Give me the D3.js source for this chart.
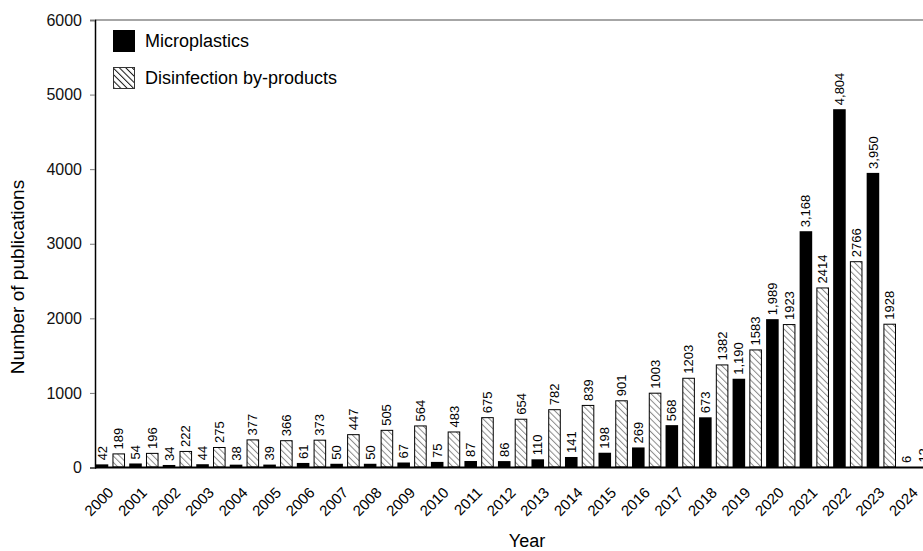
<!DOCTYPE html>
<html>
<head>
<meta charset="utf-8">
<script src="https://cdn.jsdelivr.net/npm/d3@7"></script>
<style>
  body { margin: 0; background: #fff; }
  svg { display: block; font-family: Arial, "Liberation Sans", sans-serif; }
</style>
</head>
<body>
<div id="chart"></div>
<script>
// Dades
const years = ["2000","2001","2002","2003","2004","2005","2006","2007","2008","2009",
  "2010","2011","2012","2013","2014","2015","2016","2017","2018","2019",
  "2020","2021","2022","2023","2024"];
const microplastics = [42,54,34,44,38,39,61,50,50,67,75,87,86,110,141,198,269,568,673,1190,1989,3168,4804,3950,6];
const dbp = [189,196,222,275,377,366,373,447,505,564,483,675,654,782,839,901,1003,1203,1382,1583,1923,2414,2766,1928,12];
const yTicks = [0,1000,2000,3000,4000,5000,6000];
const seriesNames = ["Microplastics", "Disinfection by-products"];

const width = 923, height = 551;
const margin = { top: 20, left: 95, bottom: 83 };
const groupStep = 33.52;

const svg = d3.select("#chart").append("svg")
  .attr("width", width)
  .attr("height", height);

// patrons ratllats
const defs = svg.append("defs");
function hatch(id, color, w, s) {
  const p = defs.append("pattern")
    .attr("id", id)
    .attr("patternUnits", "userSpaceOnUse")
    .attr("width", s).attr("height", s)
    .attr("patternTransform", "rotate(-45)");
  p.append("rect").attr("width", s).attr("height", s).attr("fill", "#fff");
  p.append("line").attr("x1", 0).attr("y1", 0).attr("x2", 0).attr("y2", s)
    .attr("stroke", color).attr("stroke-width", w);
}
hatch("hatchBar", "#8a8a8a", 2, 4.5);
hatch("hatchLegend", "#111", 2, 4.5);

// Escales
const x0 = d3.scaleBand()
  .domain(years)
  .range([margin.left + 0.7, margin.left + 0.7 + groupStep * years.length]);

const x1 = d3.scaleBand()
  .domain(["mp", "dbp"])
  .range([0, groupStep])
  .paddingInner(0.25)
  .paddingOuter(0.125)
  .align(0);

const y = d3.scaleLinear()
  .domain([0, 6000])
  .range([height - margin.bottom - 0.5, margin.top]);

const rows = years.map((yr, i) => ({ year: yr, mp: microplastics[i], dbp: dbp[i] }));

// marc superior
svg.append("line")
  .attr("x1", margin.left).attr("x2", width)
  .attr("y1", margin.top).attr("y2", margin.top)
  .attr("stroke", "#888").attr("stroke-width", 1.5);

// Barres
const g = svg.append("g");
const groups = g.selectAll("g.year")
  .data(rows)
  .join("g")
  .attr("transform", d => `translate(${x0(d.year)},0)`);

groups.append("rect")
  .attr("x", x1("mp"))
  .attr("y", d => y(d.mp))
  .attr("width", x1.bandwidth())
  .attr("height", d => y(0) - y(d.mp))
  .attr("fill", "#000");

groups.append("rect")
  .attr("x", x1("dbp") + 0.5)
  .attr("y", d => y(d.dbp) + 0.5)
  .attr("width", x1.bandwidth() - 1)
  .attr("height", d => Math.max(0, y(0) - y(d.dbp) - 1))
  .attr("fill", "url(#hatchBar)")
  .attr("stroke", "#000")
  .attr("stroke-width", 1);

// Etiquetes de valor
const fmt = d3.format(",");
groups.append("text")
  .attr("transform", d => `translate(${x1("mp") + x1.bandwidth() / 2},${y(d.mp) - 4}) rotate(-90)`)
  .attr("dy", "0.35em")
  .attr("font-size", 13)
  .text(d => fmt(d.mp));

groups.append("text")
  .attr("transform", d => `translate(${x1("dbp") + x1.bandwidth() / 2},${y(d.dbp) - 4}) rotate(-90)`)
  .attr("dy", "0.35em")
  .attr("font-size", 13)
  .text(d => d.dbp);

// Eixos
const yAxis = svg.append("g")
  .attr("transform", `translate(${margin.left},0)`)
  .call(d3.axisLeft(y).tickValues(yTicks).tickSize(5).tickPadding(8).tickFormat(d3.format("d")));
yAxis.select(".domain").attr("stroke", "#000").attr("stroke-width", 1.5);
yAxis.selectAll(".tick line").attr("stroke", "#777");
yAxis.selectAll(".tick text").attr("font-size", 16).attr("fill", "#111");

// línia base
svg.append("line")
  .attr("x1", margin.left).attr("x2", width)
  .attr("y1", y(0)).attr("y2", y(0))
  .attr("stroke", "#000").attr("stroke-width", 2);

// anys
svg.append("g")
  .selectAll("text")
  .data(years)
  .join("text")
  .attr("transform", d => `translate(${x0(d) + groupStep / 2 + 2},${y(0) + 26}) rotate(-45)`)
  .attr("text-anchor", "end")
  .attr("font-size", 15)
  .text(d => d);

// títols
svg.append("text")
  .attr("x", 527).attr("y", 547)
  .attr("text-anchor", "middle")
  .attr("font-size", 18)
  .text("Year");

svg.append("text")
  .attr("transform", "translate(24,277) rotate(-90)")
  .attr("text-anchor", "middle")
  .attr("font-size", 19)
  .text("Number of publications");

// Llegenda
const legend = svg.append("g");
legend.append("rect")
  .attr("x", 113).attr("y", 30).attr("width", 22).attr("height", 22)
  .attr("fill", "#000");
legend.append("rect")
  .attr("x", 113.5).attr("y", 67.5).attr("width", 21).attr("height", 21)
  .attr("fill", "url(#hatchLegend)")
  .attr("stroke", "#333");
legend.selectAll("text.lbl")
  .data(seriesNames)
  .join("text")
  .attr("x", 145)
  .attr("y", (d, i) => 47 + i * 37)
  .attr("font-size", 18)
  .text(d => d);
</script>
</body>
</html>
